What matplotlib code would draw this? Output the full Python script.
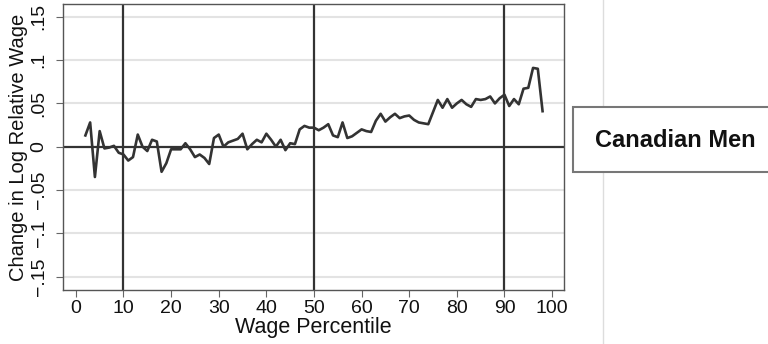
import numpy as np
import matplotlib
matplotlib.use('Agg')
import matplotlib.pyplot as plt

plt.rcParams['font.family'] = ['Liberation Sans', 'DejaVu Sans']

# change in log relative wage by wage percentile
percentile = np.arange(2, 99)
change = [
    0.013, 0.028, -0.035, 0.018, -0.002, -0.001, 0.001, -0.007, -0.009,   # 2-10
    -0.016, -0.012, 0.014, 0.000, -0.005, 0.008, 0.006, -0.029, -0.019, -0.003,  # 11-20
    -0.003, -0.003, 0.004, -0.003, -0.012, -0.009, -0.013, -0.020, 0.010, 0.014,  # 21-30
    0.000, 0.005, 0.007, 0.009, 0.015, -0.003, 0.003, 0.008, 0.005, 0.015,  # 31-40
    0.008, 0.000, 0.008, -0.004, 0.004, 0.003, 0.020, 0.024, 0.022, 0.022,  # 41-50
    0.019, 0.022, 0.026, 0.013, 0.011, 0.028, 0.010, 0.012, 0.016, 0.020,  # 51-60
    0.018, 0.017, 0.030, 0.038, 0.029, 0.034, 0.038, 0.033, 0.035, 0.036,  # 61-70
    0.031, 0.028, 0.027, 0.026, 0.040, 0.054, 0.045, 0.055, 0.045, 0.050,  # 71-80
    0.054, 0.049, 0.046, 0.055, 0.054, 0.055, 0.058, 0.050, 0.056, 0.060,  # 81-90
    0.047, 0.055, 0.049, 0.067, 0.068, 0.091, 0.090, 0.041,               # 91-98
]
xticks = list(range(0, 101, 10))
yticks = [-0.15, -0.1, -0.05, 0, 0.05, 0.1, 0.15]
ytick_labels = ['\u2212.15', '\u2212.1', '\u2212.05', '0', '.05', '.1', '.15']
marker_pcts = [10, 50, 90]

fig = plt.figure(figsize=(7.68, 3.44), dpi=100)
ax = fig.add_axes([63 / 768, 1 - 290 / 344, 501 / 768, 286 / 344])

for yv in yticks:
    if yv != 0:
        ax.axhline(yv, color='#e3e3e3', lw=1.5, zorder=0)
ax.axhline(0, color='#333333', lw=1.6, zorder=1)
for p in marker_pcts:
    ax.axvline(p, color='#333333', lw=1.6, zorder=1)

ax.plot(percentile, change, color='#333333', lw=1.9, zorder=2)

ax.set_xlim(-2.7, 102.5)
ax.set_ylim(-0.1655, 0.1648)
ax.set_xticks(xticks)
ax.set_yticks(yticks)
ax.set_yticklabels(ytick_labels, rotation=90, va='center')
ax.tick_params(direction='out', length=5, color='#666666', labelsize=14,
               labelcolor='#111111')
ax.tick_params(axis='x', pad=2)
ax.tick_params(axis='y', pad=6)
for s in ax.spines.values():
    s.set_color('#555555')
    s.set_linewidth(1.0)

ax.set_xlabel('Wage Percentile', fontsize=15.5, labelpad=0, color='#111111')
ax.set_ylabel('Change in Log Relative Wage', fontsize=14.5, labelpad=2, color='#111111')

# separator and label box on the right
fig.add_artist(plt.Line2D([603 / 768, 603 / 768], [0, 1], color='#dddddd', lw=1.0, zorder=1))
fig.add_artist(plt.Rectangle((573 / 768, 1 - 172 / 344), 200 / 768, 65 / 344,
                             facecolor='white', edgecolor='#777777', lw=1.5, zorder=2))
fig.text(675 / 768, 1 - 140 / 344, 'Canadian Men', ha='center', va='center',
         fontsize=17, fontweight='bold', color='#111111', zorder=3)

fig.savefig('out.png', dpi=100)
